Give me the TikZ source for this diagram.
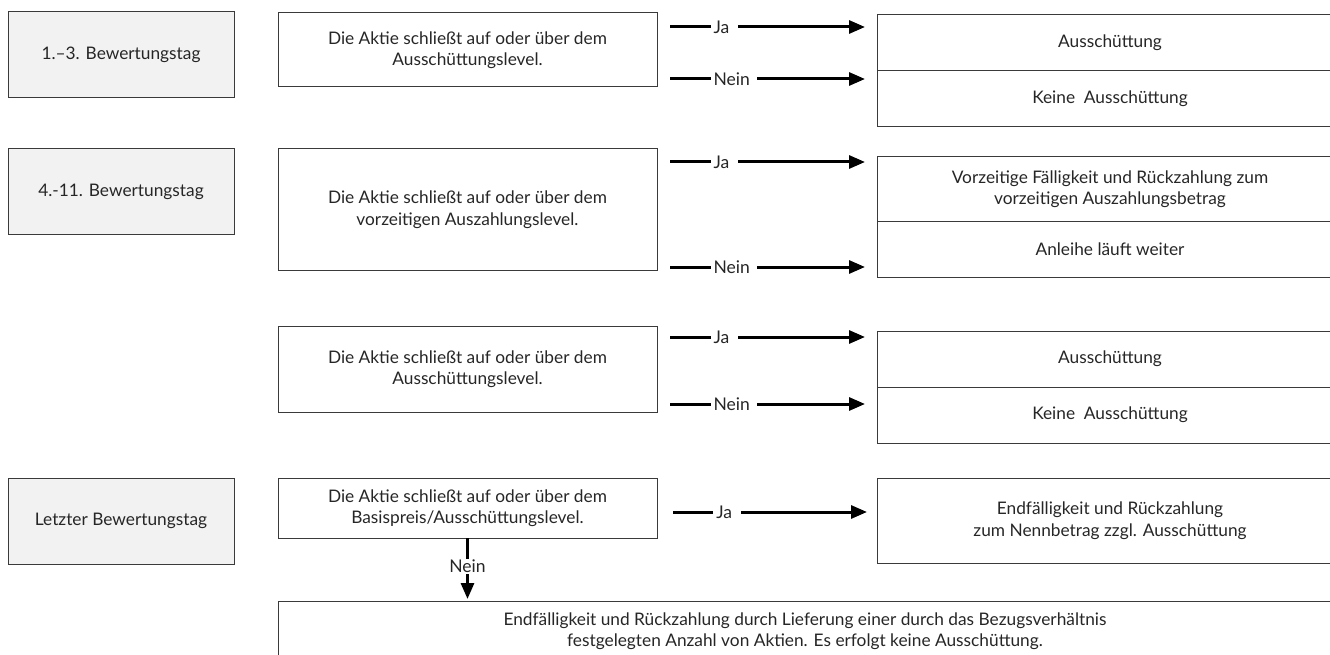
\documentclass[tikz,border=0pt]{standalone}
\usepackage{fontspec}
\setmainfont{Lato}
\usetikzlibrary{arrows.meta}
\definecolor{daygray}{HTML}{F2F2F2}
\definecolor{linegray}{HTML}{3A3A3A}
\definecolor{txtgray}{HTML}{262626}
\tikzset{
  box/.style={draw=linegray, line width=1pt, inner sep=0pt, outer sep=0pt, align=center, text=txtgray, font=\fontsize{17.3}{21.5}\selectfont},
  daybox/.style={box, fill=daygray, minimum width=226pt},
  condbox/.style={box, minimum width=379pt},
  resbox/.style={box, minimum width=466pt},
  arr/.style={line width=3pt, -{Triangle[length=16pt,width=13pt]}},
  lab/.style={fill=white, inner xsep=3pt, inner ysep=1pt, text=txtgray, font=\fontsize{17.5}{20}\selectfont}
}
\begin{document}
\begin{tikzpicture}[x=1pt, y=-1pt]
\useasboundingbox (0,0) rectangle (1330,655);
\clip (0,0) rectangle (1330,655);
% row 1
\node[daybox, minimum height=86pt, anchor=north west] (day1) at (8,12) {1.--3. Bewertungstag};
\node[condbox, minimum height=74pt, anchor=north west] (cond1) at (278,13) {Die Aktie schließt auf oder über dem\\Ausschüttungslevel.};
\node[resbox, minimum height=56pt, anchor=north west] (res1a) at (877,15) {Ausschüttung};
\node[resbox, minimum height=56pt, anchor=north west] (res1b) at (877,71) {Keine\ \ Ausschüttung};
\coordinate (ja1s) at (670,27);
\coordinate (ja1e) at (865,27);
\coordinate (nein1s) at (670,79);
\coordinate (nein1e) at (865,79);
\draw[arr] (ja1s) -- node[lab, pos=.2, anchor=west] {Ja\kern6pt} (ja1e);
\draw[arr] (nein1s) -- node[lab, pos=.2, anchor=west] {Nein\kern4pt} (nein1e);
% row 2
\node[daybox, minimum height=85pt, anchor=north west] (day2) at (8,149) {4.-11. Bewertungstag};
\node[condbox, minimum height=121pt, anchor=north west] (cond2) at (278,149) {Die Aktie schließt auf oder über dem\\vorzeitigen Auszahlungslevel.};
\node[resbox, minimum height=64pt, anchor=north west] (res2a) at (877,157) {Vorzeitige Fälligkeit und Rückzahlung zum\\vorzeitigen Auszahlungsbetrag};
\node[resbox, minimum height=56pt, anchor=north west] (res2b) at (877,221) {Anleihe läuft weiter};
\coordinate (ja2s) at (670,162);
\coordinate (ja2e) at (865,162);
\coordinate (nein2s) at (670,267);
\coordinate (nein2e) at (865,267);
\draw[arr] (ja2s) -- node[lab, pos=.2, anchor=west] {Ja\kern6pt} (ja2e);
\draw[arr] (nein2s) -- node[lab, pos=.2, anchor=west] {Nein\kern4pt} (nein2e);
% row 3
\node[condbox, minimum height=86pt, anchor=north west] (cond3) at (278,326) {Die Aktie schließt auf oder über dem\\Ausschüttungslevel.};
\node[resbox, minimum height=56pt, anchor=north west] (res3a) at (877,331) {Ausschüttung};
\node[resbox, minimum height=56pt, anchor=north west] (res3b) at (877,387) {Keine\ \ Ausschüttung};
\coordinate (ja3s) at (670,337);
\coordinate (ja3e) at (865,337);
\coordinate (nein3s) at (670,404);
\coordinate (nein3e) at (865,404);
\draw[arr] (ja3s) -- node[lab, pos=.2, anchor=west] {Ja\kern6pt} (ja3e);
\draw[arr] (nein3s) -- node[lab, pos=.2, anchor=west] {Nein\kern4pt} (nein3e);
% row 4
\node[daybox, minimum height=86pt, anchor=north west] (day4) at (8,478) {Letzter Bewertungstag};
\node[condbox, minimum height=60pt, anchor=north west] (cond4) at (278,478) {Die Aktie schließt auf oder über dem\\Basispreis/Ausschüttungslevel.};
\node[resbox, minimum height=85pt, anchor=north west] (res4) at (877,478) {Endfälligkeit und Rückzahlung\\zum Nennbetrag zzgl. Ausschüttung};
\node[box, minimum width=1054pt, minimum height=60pt, anchor=north west] (final) at (278,601) {Endfälligkeit und Rückzahlung durch Lieferung einer durch das Bezugsverhältnis\\festgelegten Anzahl von Aktien. Es erfolgt keine Ausschüttung.};
\coordinate (ja4s) at (673,512);
\coordinate (ja4e) at (867,512);
\draw[arr] (ja4s) -- node[lab, pos=.2, anchor=west] {Ja\kern6pt} (ja4e);
\draw[arr] (cond4.south) -- node[lab, pos=.47, inner xsep=1pt] {Nein} ([yshift=2pt]final.north -| cond4.south);
\end{tikzpicture}
\end{document}
